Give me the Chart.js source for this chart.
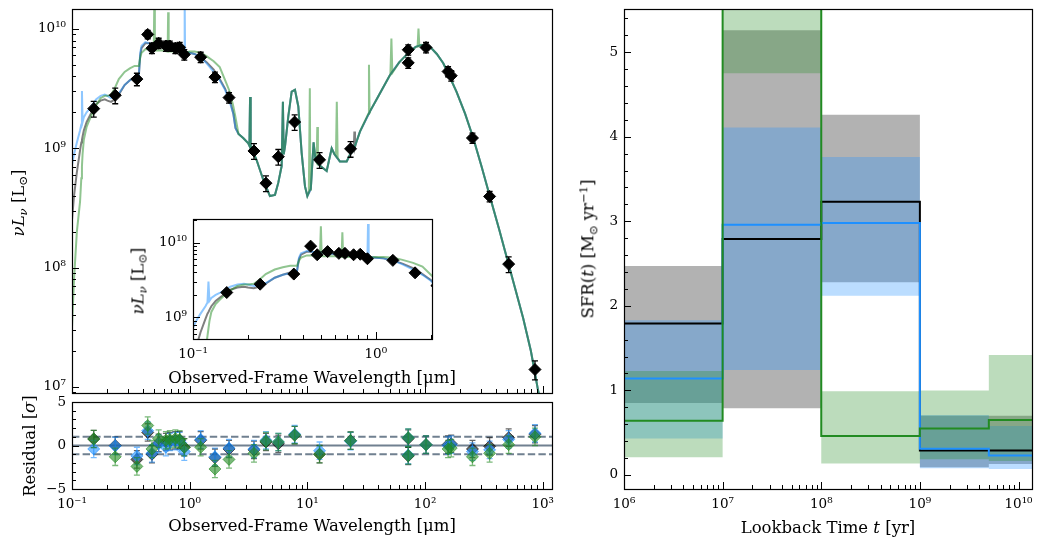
<!DOCTYPE html>
<html>
<head>
<meta charset="utf-8">
<title>SED fit and star formation history</title>
<script src="https://cdn.jsdelivr.net/npm/chart.js@4.4.1/dist/chart.umd.min.js"></script>
<style>
  html, body { margin: 0; padding: 0; background: #fff; }
  #fig { position: relative; width: 1044px; height: 548px; overflow: hidden; font-family: 'DejaVu Serif', serif; }
  #fig canvas { position: absolute; }
  .lab { position: absolute; font-size: 16.5px; color: #000; white-space: nowrap; line-height: 1; transform: translate(-50%, -50%); }
  .lab.rot { transform: translate(-50%, -50%) rotate(-90deg); }
  .lab sub { font-size: 70%; vertical-align: -0.3em; }
  .lab sup { font-size: 70%; vertical-align: 0.55em; }
</style>
</head>
<body>
<div id="fig">
  <canvas id="sed" width="560" height="400" style="left:0px;top:0px"></canvas>
  <canvas id="resid" width="560" height="153" style="left:0px;top:395px"></canvas>
  <canvas id="inset" width="320" height="190" style="left:120px;top:210px"></canvas>
  <canvas id="sfh" width="484" height="548" style="left:560px;top:0px"></canvas>

  <div class="lab rot" style="left:20px;top:203px"><i>νL</i><sub><i>ν</i></sub> [L<sub>⊙</sub>]</div>
  <div class="lab rot" style="left:140px;top:281px"><i>νL</i><sub><i>ν</i></sub> [L<sub>⊙</sub>]</div>
  <div class="lab" style="left:312px;top:378px">Observed-Frame Wavelength [μm]</div>
  <div class="lab rot" style="left:30px;top:446px">Residual [<i>σ</i>]</div>
  <div class="lab rot" style="left:589px;top:249px">SFR(<i>t</i>) [M<sub>⊙</sub> yr<sup>−1</sup>]</div>
  <div class="lab" style="left:828px;top:528px">Lookback Time <i>t</i> [yr]</div>
</div>

<script>
// ---- photometry (micron, L_sun) ----
const photWave = [0.153, 0.233, 0.356, 0.44, 0.478, 0.545, 0.628, 0.678, 0.756, 0.822, 0.9, 1.24, 1.64, 2.16,
  3.52, 4.45, 5.67, 7.8, 12.7, 23.3, 72, 72, 102, 157, 167, 253, 354, 514, 860];
const photLum = [2.15e9, 2.78e9, 3.8e9, 9.0e9, 6.9e9, 7.6e9, 7.2e9, 7.2e9, 6.9e9, 7.0e9, 6.1e9, 5.8e9, 3.95e9, 2.66e9,
  9.5e8, 5.1e8, 8.5e8, 1.66e9, 8.0e8, 9.9e8, 6.7e9, 5.2e9, 7.0e9, 4.4e9, 4.06e9, 1.22e9, 3.95e8, 1.07e8, 1.4e7];
const photErr = [0.15, 0.15, 0.12, 0.08, 0.1, 0.1, 0.1, 0.1, 0.1, 0.1, 0.1, 0.1, 0.1, 0.1,
  0.15, 0.15, 0.15, 0.15, 0.15, 0.15, 0.1, 0.1, 0.1, 0.1, 0.1, 0.1, 0.1, 0.15, 0.18];   // fractional

// ---- residuals (sigma) per model ----
const resBlack = [0.75, 0.0, -1.6, 1.5, -1.0, 0.3, 0.4, 0.5, 0.6, 0.6, -0.2, 0.6, -1.4, -0.4,
  -0.5, 0.4, 0.2, 1.2, -1.0, 0.55, 0.8, -1.2, 0.1, 0.1, 0.2, -0.4, -0.1, 0.9, 1.3];
const resBlue = [-0.4, -0.05, -1.2, 1.7, -0.9, 0.2, -0.2, 0.4, 0.5, 0.5, -0.7, 0.7, -1.3, -0.3,
  -0.4, 0.6, 0.4, 1.3, -0.6, 0.5, 0.9, -1.1, 0.1, 0.0, 0.1, -0.7, -0.5, 0.7, 1.4];
const resGreen = [0.75, -1.3, -2.4, 2.3, -0.4, 0.8, 0.6, 0.7, 0.8, 0.7, -0.2, -0.2, -2.7, -1.6,
  -0.9, 0.5, 0.4, 1.2, -1.0, 0.55, 0.9, -1.15, 0.1, -0.4, -0.3, -1.3, -0.9, 0.1, 1.0];

// ---- model spectra, UV to near-IR (differ between models) ----
const uvWave = [0.1, 0.104, 0.11, 0.117, 0.12, 0.1215, 0.123, 0.126, 0.133, 0.141, 0.15, 0.16, 0.175, 0.19, 0.2,
  0.215, 0.23, 0.25, 0.28, 0.31, 0.34, 0.37, 0.38, 0.39, 0.42, 0.45, 0.495, 0.5007, 0.506, 0.55, 0.6, 0.65,
  0.6563, 0.663, 0.72, 0.8, 0.9, 0.9069, 0.914, 1.0, 1.1, 1.25, 1.4, 1.6, 1.8, 2.0, 2.2, 2.35, 2.45];
const blackUV = [2.51e8, 3.98e8, 6.31e8, 9.55e8, 1.12e9, 1.18e9, 1.26e9, 1.41e9, 1.66e9, 1.86e9, 2.09e9, 2.34e9,
  2.51e9, 2.57e9, 2.51e9, 2.45e9, 2.57e9, 2.82e9, 3.39e9, 3.72e9, 3.98e9, 4.07e9, 6.03e9, 6.92e9, 7.59e9, 7.59e9,
  7.41e9, 7.41e9, 7.41e9, 7.24e9, 7.08e9, 6.92e9, 6.92e9, 6.92e9, 6.76e9, 6.61e9, 6.46e9, 6.46e9, 6.46e9, 6.31e9,
  6.17e9, 5.75e9, 5.25e9, 4.57e9, 3.80e9, 3.16e9, 2.51e9, 1.95e9, 1.48e9];
const blueUV = [7.24e8, 8.91e8, 1.12e9, 1.41e9, 1.58e9, 3.02e9, 1.66e9, 1.82e9, 2.0e9, 2.14e9, 2.34e9, 2.57e9,
  2.75e9, 2.82e9, 2.75e9, 2.63e9, 2.69e9, 2.88e9, 3.39e9, 3.72e9, 3.89e9, 4.07e9, 6.31e9, 7.24e9, 7.76e9, 7.59e9,
  7.41e9, 7.41e9, 7.41e9, 7.24e9, 7.08e9, 6.92e9, 6.92e9, 6.92e9, 6.76e9, 6.61e9, 6.46e9, 1.78e10, 6.46e9, 6.31e9,
  6.17e9, 5.75e9, 5.13e9, 4.37e9, 3.72e9, 3.09e9, 2.40e9, 1.95e9, 1.48e9];
const greenUV = [3.16e7, 7.94e7, 2.0e8, 3.55e8, 5.62e8, 7.08e8, 8.91e8, 1.18e9, 1.51e9, 1.74e9, 2.0e9, 2.29e9,
  2.63e9, 2.75e9, 2.75e9, 2.82e9, 3.16e9, 3.80e9, 4.37e9, 4.68e9, 4.90e9, 4.90e9, 5.75e9, 6.31e9, 6.76e9, 6.76e9,
  6.76e9, 1.66e10, 6.61e9, 6.61e9, 6.61e9, 6.46e9, 1.38e10, 6.46e9, 6.46e9, 6.46e9, 6.31e9, 6.31e9, 6.31e9, 6.46e9,
  6.46e9, 6.31e9, 5.89e9, 5.37e9, 4.79e9, 3.72e9, 2.95e9, 2.24e9, 1.82e9];

// ---- mid/far-IR continuum (same for all models) ----
const irWave = [2.6, 2.85, 3.15, 3.22, 3.26, 3.3, 3.71, 4.22, 4.81, 5.31, 5.66, 5.96, 6.05, 6.2, 6.3, 6.46, 6.89,
  7.36, 7.85, 8.38, 8.95, 9.55, 10.0, 10.7, 11.3, 11.75, 12.6, 14.6, 16.1, 17.0, 18.9, 21.6, 23.0, 24.5, 26.2, 28.0,
  34.0, 39.8, 50.4, 60.3, 71.9, 83.2, 93.5, 110, 126, 143, 162, 185, 219, 257, 302, 356, 427, 509, 589, 682, 794,
  916, 1202];
const irLum = [1.32e9, 1.22e9, 1.10e9, 1.05e9, 2.69e9, 1.05e9, 7.94e8, 5.45e8, 3.98e8, 4.07e8, 5.13e8, 6.61e8,
  7.08e8, 2.45e9, 8.91e8, 1.04e9, 1.85e9, 2.99e9, 3.09e9, 2.24e9, 9.12e8, 4.79e8, 3.98e8, 4.57e8, 1.12e9, 7.94e8,
  7.24e8, 6.46e8, 1.0e9, 8.91e8, 7.76e8, 7.76e8, 8.83e8, 9.55e8, 1.14e9, 1.38e9, 2.03e9, 2.69e9, 4.12e9, 5.25e9,
  6.27e9, 7.08e9, 7.35e9, 7.11e9, 6.17e9, 5.16e9, 3.98e9, 2.99e9, 1.95e9, 1.22e9, 7.08e8, 3.95e8, 2.09e8, 1.10e8,
  6.46e7, 3.79e7, 2.0e7, 9.23e6, 3.16e6];

// emission lines only seen in one model
const greenLineWave = [10.3, 10.5, 10.6, 12.0, 12.15, 12.3, 17.5, 17.8, 18.1, 33.0, 33.4, 33.8, 50.8, 51.8, 52.8, 86.5, 88.0, 89.5];
const greenLineLum = [4.3e8, 3.18e9, 4.5e8, 7.6e8, 1.51e9, 7.4e8, 8.6e8, 2.45e9, 8.3e8, 1.95e9, 5.01e9, 2.0e9,
  4.17e9, 8.32e9, 4.3e9, 7.12e9, 1.01e10, 7.2e9];
const blackLineWave = [24.8, 25.1, 25.4];
const blackLineLum = [9.8e8, 1.38e9, 1.02e9];

// ---- star formation history (bins in yr, SFR in Msun/yr) ----
const sfhEdges = [1e6, 1e7, 1e8, 1e9, 5e9, 1.37e10];
const blackMed = [1.79, 2.79, 3.23, 0.29, 0.29];
const blackLo = [0.85, 0.79, 2.28, 0.09, 0.13];
const blackHi = [2.47, 5.26, 4.26, 0.70, 0.70];
const blueMed = [1.14, 2.96, 2.98, 0.31, 0.23];
const blueLo = [0.43, 1.24, 2.12, 0.08, 0.07];
const blueHi = [1.83, 4.11, 3.76, 0.71, 0.58];
const greenMed = [0.64, 6.2, 0.46, 0.55, 0.65];
const greenLo = [0.21, 4.75, 0.135, 0.185, 0.165];
const greenHi = [1.23, 7.5, 0.99, 1.0, 1.42];

const BLACK = '#000000', BLUE = '#1e90ff', GREEN = '#228b22';
const LINE_BLACK = 'rgba(0,0,0,0.5)', LINE_BLUE = 'rgba(30,144,255,0.5)', LINE_GREEN = 'rgba(34,139,34,0.5)';

Chart.defaults.font.family = "'DejaVu Serif', serif";
Chart.defaults.color = '#000';

const tickFont = { family: "'DejaVu Serif', serif", size: 13.5 };
const titleFont = { family: "'DejaVu Serif', serif", size: 16.5 };

const pairs = (xs, ys) => xs.map((x, i) => ({ x, y: ys[i] }));
const merged = (...parts) => parts.flat().sort((a, b) => a.x - b.x);
const stepPts = vals => sfhEdges.map((x, i) => ({ x, y: vals[Math.min(i, vals.length - 1)] }));

const SUP = { '-': '⁻', '0': '⁰', '1': '¹', '2': '²', '3': '³', '4': '⁴', '5': '⁵', '6': '⁶', '7': '⁷', '8': '⁸', '9': '⁹' };
const pow10Label = v => '10' + String(Math.round(Math.log10(v))).split('').map(c => SUP[c]).join('');

function logMarks(min, max) {
  const out = [];
  for (let e = Math.floor(Math.log10(min)); e <= Math.ceil(Math.log10(max)); e++) {
    for (let k = 1; k <= 9; k++) {
      const v = k * Math.pow(10, e);
      if (v >= min * 0.9999 && v <= max * 1.0001) out.push({ v, major: k === 1 });
    }
  }
  return out;
}
function linMarks(min, max, step, every) {
  const out = [];
  for (let i = Math.ceil(min / step - 1e-9); i * step <= max + 1e-9; i++) out.push({ v: i * step, major: i % every === 0 });
  return out;
}
const majorsOf = marks => marks.filter(m => m.major).map(m => ({ value: m.v }));

// frame + inward ticks on left and bottom, like the matplotlib axes
const framePlugin = {
  id: 'frame',
  beforeDraw(chart, args, opts) {
    if (!opts.white) return;
    const a = chart.chartArea, ctx = chart.ctx;
    ctx.save();
    ctx.fillStyle = '#fff';
    ctx.fillRect(a.left, a.top, a.right - a.left, a.bottom - a.top);
    ctx.restore();
  },
  afterDraw(chart, args, opts) {
    const { ctx, chartArea: a, scales } = chart;
    ctx.save();
    ctx.strokeStyle = '#000';
    ctx.lineWidth = 1;
    (opts.x || []).forEach(t => {
      const px = Math.round(scales.x.getPixelForValue(t.v)) + 0.5;
      const len = t.major ? 7 : 4;
      ctx.beginPath(); ctx.moveTo(px, a.bottom); ctx.lineTo(px, a.bottom - len); ctx.stroke();
    });
    (opts.y || []).forEach(t => {
      const py = Math.round(scales.y.getPixelForValue(t.v)) + 0.5;
      const len = t.major ? 7 : 4;
      ctx.beginPath(); ctx.moveTo(a.left, py); ctx.lineTo(a.left + len, py); ctx.stroke();
    });
    ctx.lineWidth = 1.2;
    ctx.strokeRect(Math.round(a.left) + 0.5, Math.round(a.top) + 0.5, Math.round(a.right - a.left), Math.round(a.bottom - a.top));
    ctx.restore();
  }
};

// vertical error bars with caps, read from dataset.errors
const errorBarPlugin = {
  id: 'errorBars',
  beforeDatasetDraw(chart, args) {
    const ds = chart.data.datasets[args.index];
    if (!ds.errors) return;
    const { ctx, chartArea: a, scales: { x, y } } = chart;
    ctx.save();
    ctx.beginPath(); ctx.rect(a.left, a.top, a.right - a.left, a.bottom - a.top); ctx.clip();
    ctx.strokeStyle = ds.errorColor;
    ctx.lineWidth = 1.3;
    ds.data.forEach((p, i) => {
      const e = ds.errors[i];
      const px = x.getPixelForValue(p.x);
      const y1 = y.getPixelForValue(p.y - e), y2 = y.getPixelForValue(p.y + e);
      ctx.beginPath();
      ctx.moveTo(px, y1); ctx.lineTo(px, y2);
      ctx.moveTo(px - 3, y1); ctx.lineTo(px + 3, y1);
      ctx.moveTo(px - 3, y2); ctx.lineTo(px + 3, y2);
      ctx.stroke();
    });
    ctx.restore();
  }
};

function xAxis(type, min, max, height, showLabels, title, extra) {
  return Object.assign({
    type, min, max, position: 'bottom',
    grid: { display: false, drawTicks: false }, border: { display: false },
    ticks: { display: showLabels, font: tickFont, color: '#000', padding: 7, autoSkip: false, maxRotation: 0,
      callback: v => type === 'logarithmic' ? pow10Label(v) : String(v) },
    title: title ? { display: true, text: title, font: titleFont, color: '#000', padding: { top: 2, bottom: 11 } } : { display: false },
    afterFit: s => { s.height = height; s.paddingLeft = 0; s.paddingRight = 0; }
  }, extra || {});
}
function yAxis(type, min, max, width, extra) {
  return Object.assign({
    type, min, max, position: 'left',
    grid: { display: false, drawTicks: false }, border: { display: false },
    ticks: { font: tickFont, color: '#000', padding: 6, autoSkip: false,
      callback: v => type === 'logarithmic' ? pow10Label(v) : (v < 0 ? '−' + Math.abs(v) : String(v)) },
    afterFit: s => { s.width = width; s.paddingTop = 0; s.paddingBottom = 0; }
  }, extra || {});
}

const blackSed = merged(pairs(uvWave, blackUV), pairs(irWave, irLum), pairs(blackLineWave, blackLineLum));
const blueSed = merged(pairs(uvWave, blueUV), pairs(irWave, irLum));
const greenSed = merged(pairs(uvWave, greenUV), pairs(irWave, irLum), pairs(greenLineWave, greenLineLum));

function sedDatasets(withErrors) {
  const lineDs = (label, data, color, order) => ({ label, data, borderColor: color, borderWidth: 2, pointRadius: 0, fill: false, order });
  return [
    { label: 'Photometry', data: pairs(photWave, photLum), showLine: false, pointStyle: 'rectRot', pointRadius: 6,
      pointBackgroundColor: BLACK, pointBorderColor: BLACK, order: 0,
      errors: withErrors ? photLum.map((v, i) => v * photErr[i]) : null, errorColor: BLACK },
    lineDs('Model 3', greenSed, LINE_GREEN, 1),
    lineDs('Model 2', blueSed, LINE_BLUE, 2),
    lineDs('Model 1', blackSed, LINE_BLACK, 3)
  ];
}

const baseOpts = { responsive: false, animation: false, events: [] };

// ---- main SED panel ----
const sedX = [0.1, 1200], sedY = [8.9e6, 1.47e10];
new Chart(document.getElementById('sed'), {
  type: 'line',
  data: { datasets: sedDatasets(true) },
  options: Object.assign({}, baseOpts, {
    layout: { padding: { top: 9, right: 8, left: 0, bottom: 0 } },
    plugins: { legend: { display: false }, tooltip: { enabled: false },
      frame: { x: logMarks(...sedX), y: logMarks(...sedY) } },
    scales: {
      x: xAxis('logarithmic', sedX[0], sedX[1], 7, false, null),
      y: yAxis('logarithmic', sedY[0], sedY[1], 72, { afterBuildTicks: s => { s.ticks = majorsOf(logMarks(...sedY)); } })
    }
  }),
  plugins: [framePlugin, errorBarPlugin]
});

// ---- inset: UV-optical zoom ----
const insX = [0.1, 2.03], insY = [5.12e8, 2.08e10];
new Chart(document.getElementById('inset'), {
  type: 'line',
  data: { datasets: sedDatasets(false) },
  options: Object.assign({}, baseOpts, {
    layout: { padding: { top: 9, right: 8, left: 0, bottom: 0 } },
    plugins: { legend: { display: false }, tooltip: { enabled: false },
      frame: { white: true, x: logMarks(...insX), y: logMarks(...insY) } },
    scales: {
      x: xAxis('logarithmic', insX[0], insX[1], 61, true, null,
        { afterBuildTicks: s => { s.ticks = majorsOf(logMarks(...insX)); } }),
      y: yAxis('logarithmic', insY[0], insY[1], 73, { afterBuildTicks: s => { s.ticks = majorsOf(logMarks(...insY)); } })
    }
  }),
  plugins: [framePlugin]
});

// ---- residual panel ----
const resY = [-5, 5];
const resDs = (label, vals, rgb, order) => ({
  label, data: pairs(photWave, vals), showLine: false, pointStyle: 'rectRot', pointRadius: 6,
  pointBackgroundColor: `rgba(${rgb},0.6)`, pointBorderColor: `rgba(${rgb},0.6)`, pointBorderWidth: 1,
  errors: vals.map(() => 1), errorColor: `rgba(${rgb},0.6)`, order
});
const refLine = (y, dash) => ({ data: [{ x: sedX[0], y }, { x: sedX[1], y }], borderColor: '#708090', borderWidth: 2,
  borderDash: dash, pointRadius: 0, fill: false, order: 4 });
new Chart(document.getElementById('resid'), {
  type: 'line',
  data: { datasets: [
    resDs('Model 3', resGreen, '34,139,34', 0),
    resDs('Model 2', resBlue, '30,144,255', 1),
    resDs('Model 1', resBlack, '0,0,0', 2),
    refLine(0, []), refLine(1, [7.4, 3.2]), refLine(-1, [7.4, 3.2])
  ] },
  options: Object.assign({}, baseOpts, {
    layout: { padding: { top: 4, right: 8, left: 0, bottom: 0 } },
    plugins: { legend: { display: false }, tooltip: { enabled: false },
      frame: { x: logMarks(...sedX), y: linMarks(resY[0], resY[1], 1, 5) } },
    scales: {
      x: xAxis('logarithmic', sedX[0], sedX[1], 59, true, 'Observed-Frame Wavelength [μm]',
        { afterBuildTicks: s => { s.ticks = majorsOf(logMarks(...sedX)); } }),
      y: yAxis('linear', resY[0], resY[1], 72, { afterBuildTicks: s => { s.ticks = majorsOf(linMarks(resY[0], resY[1], 1, 5)); } })
    }
  }),
  plugins: [framePlugin, errorBarPlugin]
});

// ---- star formation history ----
const sfhX = [1e6, 1.37e10], sfhY = [-0.166, 5.51];
const band = (data, rgb, order, fill) => ({ data: stepPts(data), stepped: 'before', borderColor: 'rgba(0,0,0,0)', borderWidth: 0,
  pointRadius: 0, backgroundColor: `rgba(${rgb},0.3)`, fill, order });
const med = (label, data, color, order) => ({ label, data: stepPts(data), stepped: 'before', borderColor: color, borderWidth: 2,
  pointRadius: 0, fill: false, order });
new Chart(document.getElementById('sfh'), {
  type: 'line',
  data: { datasets: [
    med('Model 3', greenMed, GREEN, 0),
    med('Model 2', blueMed, BLUE, 1),
    med('Model 1', blackMed, BLACK, 2),
    band(greenHi, '34,139,34', 3, '+1'), band(greenLo, '34,139,34', 3, false),
    band(blueHi, '30,144,255', 4, '+1'), band(blueLo, '30,144,255', 4, false),
    band(blackHi, '0,0,0', 5, '+1'), band(blackLo, '0,0,0', 5, false)
  ] },
  options: Object.assign({}, baseOpts, {
    layout: { padding: { top: 9, right: 12, left: 0, bottom: 0 } },
    plugins: { legend: { display: false }, tooltip: { enabled: false },
      frame: { x: logMarks(...sfhX), y: linMarks(sfhY[0], sfhY[1], 0.2, 5) } },
    scales: {
      x: xAxis('logarithmic', sfhX[0], sfhX[1], 59, true, null,
        { afterBuildTicks: s => { s.ticks = majorsOf(logMarks(...sfhX)); } }),
      y: yAxis('linear', sfhY[0], sfhY[1], 64, { afterBuildTicks: s => { s.ticks = majorsOf(linMarks(sfhY[0], sfhY[1], 0.2, 5)); } })
    }
  }),
  plugins: [framePlugin]
});
</script>
</body>
</html>
